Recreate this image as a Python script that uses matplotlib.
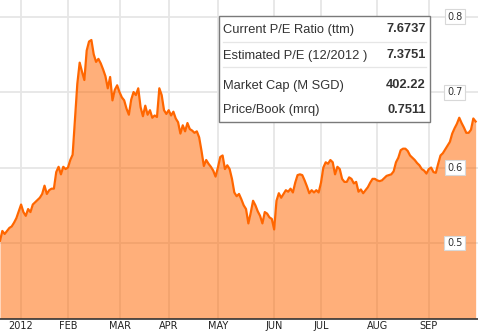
import numpy as np
import matplotlib.pyplot as plt
import matplotlib.transforms as mtransforms

# price/book per trading day, starting late Dec 2011
pb = [0.503, 0.516, 0.512, 0.516, 0.520, 0.522, 0.527, 0.533, 0.542, 0.551,
      0.541, 0.536, 0.545, 0.541, 0.551, 0.554, 0.557, 0.560, 0.565, 0.576,
      0.565, 0.570, 0.572, 0.572, 0.594, 0.601, 0.591, 0.601, 0.598, 0.600,
      0.610, 0.617, 0.663, 0.711, 0.739, 0.727, 0.716, 0.755, 0.767, 0.769,
      0.750, 0.740, 0.744, 0.738, 0.730, 0.721, 0.705, 0.720, 0.689, 0.703,
      0.709, 0.700, 0.693, 0.689, 0.678, 0.670, 0.690, 0.700, 0.696, 0.705,
      0.680, 0.668, 0.682, 0.670, 0.676, 0.666, 0.669, 0.667, 0.705, 0.696,
      0.676, 0.671, 0.676, 0.669, 0.674, 0.665, 0.660, 0.645, 0.656, 0.648,
      0.659, 0.651, 0.649, 0.646, 0.648, 0.640, 0.622, 0.602, 0.610, 0.605,
      0.601, 0.596, 0.588, 0.600, 0.614, 0.616, 0.598, 0.603, 0.598, 0.585,
      0.567, 0.562, 0.565, 0.558, 0.550, 0.545, 0.526, 0.540, 0.556, 0.550,
      0.542, 0.536, 0.526, 0.541, 0.539, 0.534, 0.532, 0.518, 0.556, 0.566,
      0.560, 0.565, 0.570, 0.568, 0.572, 0.567, 0.580, 0.590, 0.591, 0.590,
      0.583, 0.575, 0.566, 0.570, 0.567, 0.570, 0.567, 0.580, 0.600, 0.607,
      0.605, 0.610, 0.607, 0.591, 0.601, 0.598, 0.585, 0.581, 0.581, 0.587,
      0.585, 0.579, 0.581, 0.568, 0.571, 0.566, 0.570, 0.574, 0.580, 0.585,
      0.585, 0.583, 0.582, 0.583, 0.586, 0.589, 0.590, 0.591, 0.595, 0.607,
      0.613, 0.623, 0.625, 0.625, 0.622, 0.616, 0.613, 0.610, 0.606, 0.603,
      0.598, 0.596, 0.592, 0.598, 0.600, 0.594, 0.593, 0.605, 0.616, 0.619,
      0.624, 0.629, 0.634, 0.645, 0.652, 0.658, 0.666, 0.659, 0.653, 0.646,
      0.646, 0.650, 0.665, 0.661]
day = np.arange(len(pb))

month_pos = [9, 29, 51, 72, 93, 117, 137, 161, 183]
month_lbl = ['2012', 'FEB', 'MAR', 'APR', 'MAY', 'JUN', 'JUL', 'AUG', 'SEP']
yticks = [0.5, 0.6, 0.7, 0.8]

stat_names = ['Current P/E Ratio (ttm)', 'Estimated P/E (12/2012 )',
              'Market Cap (M SGD)', 'Price/Book (mrq)']
stat_vals = ['7.6737', '7.3751', '402.22', '0.7511']

orange = '#ff6600'

fig = plt.figure(figsize=(4.78, 3.33), dpi=100)
ax = fig.add_axes([0, 14.5/333, 1, 318.5/333])
ax.set_xlim(0, 204)
ax.set_ylim(0.4, 0.822)

# grid
for p in month_pos:
    ax.axvline(p, color='#e6e6e6', lw=1.3, zorder=0)
for v in yticks:
    ax.axhline(v, color='#e6e6e6', lw=1.3, zorder=0)

ax.fill_between(day, pb, 0.4, color=orange, alpha=0.52, lw=0, zorder=1)
ax.plot(day, pb, color=orange, lw=1.6, zorder=2, solid_joinstyle='round')

for s in ['top', 'right', 'left']:
    ax.spines[s].set_visible(False)
ax.spines['bottom'].set_color('#333333')
ax.spines['bottom'].set_linewidth(1.2)
ax.set_yticks([])
ax.set_xticks(month_pos)
ax.set_xticklabels(month_lbl, fontsize=7, color='#222222')
ax.tick_params(axis='x', length=0, pad=2)

# value labels on the right
trans = mtransforms.blended_transform_factory(ax.transAxes, ax.transData)
for v in yticks:
    ax.text(0.951, v, '%.1f' % v, transform=trans, ha='center', va='center',
            fontsize=7, color='#333333', zorder=5,
            bbox=dict(boxstyle='square,pad=0.25', fc='white', ec='#d8d8d8', lw=0.8))

# key stats panel, placed in pixel units of the axes
W, H = 478.0, 318.5
def fx(px):
    return px / W
def fy(py):
    return 1 - py / H

ax.add_patch(plt.Rectangle((fx(218.5), fy(122)), fx(430) - fx(218.5), fy(15.5) - fy(122),
                           transform=ax.transAxes, fc='white', ec='#7a7a7a', lw=1.0, zorder=6))
rows_y = [29.5, 55.5, 85.5, 110.5]
for name, val, yy in zip(stat_names, stat_vals, rows_y):
    ax.text(fx(223), fy(yy), name, transform=ax.transAxes, ha='left', va='center',
            fontsize=9.3, color='#333333', family='Liberation Sans', zorder=7)
    ax.text(fx(426), fy(yy), val, transform=ax.transAxes, ha='right', va='center',
            fontsize=9.3, color='#333333', family='Liberation Sans', weight='bold', zorder=7)
for yy in [41.5, 67.5]:
    ax.plot([fx(223), fx(426)], [fy(yy), fy(yy)], transform=ax.transAxes,
            color='#e6e6e6', lw=0.9, zorder=7)

fig.savefig('out.png', dpi=100)
